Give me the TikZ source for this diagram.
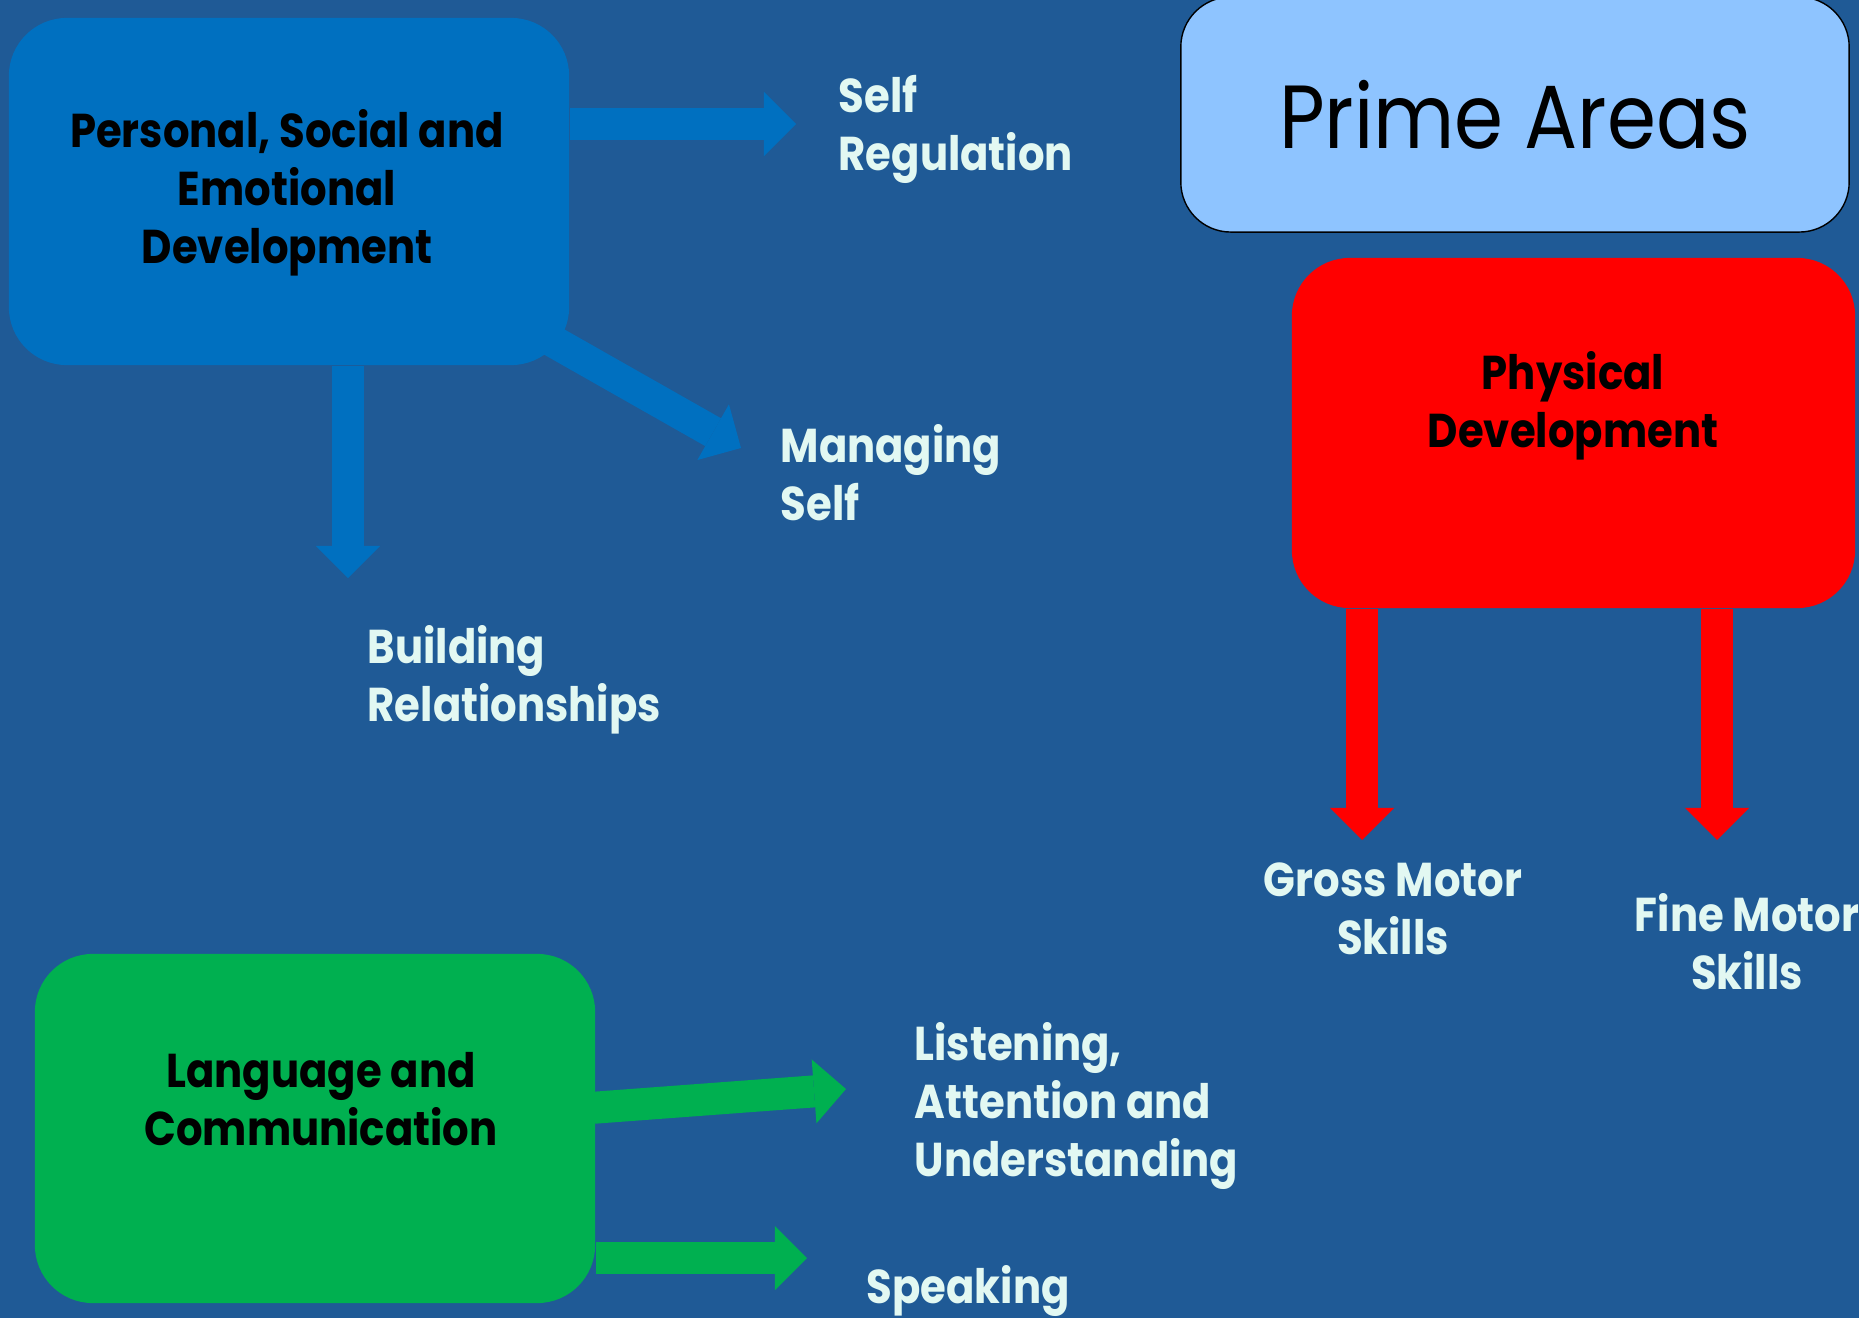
\documentclass[tikz,border=0pt]{standalone}
\usepackage{fontspec}
\setmainfont{Poppins}
\newfontfamily\comicish[FakeStretch=0.88]{Poppins}
\usetikzlibrary{arrows.meta,positioning}
\definecolor{slide}{RGB}{31,90,150}
\definecolor{psedblue}{RGB}{0,112,192}
\definecolor{physred}{RGB}{255,0,0}
\definecolor{langgreen}{RGB}{0,176,80}
\definecolor{primesky}{RGB}{142,196,255}
\definecolor{labelmint}{RGB}{226,248,242}
\pgfdeclarelayer{background}
\pgfsetlayers{background,main}
\tikzset{
  areabox/.style={rounded corners=0.58cm, inner sep=0pt},
  areatext/.style={font=\comicish\bfseries\fontsize{13.5}{16.5}\selectfont, align=center, text=black},
  skill/.style={font=\comicish\bfseries\fontsize{13.5}{16.5}\selectfont, text=labelmint, inner sep=0pt},
  fat/.style={line width=0.32cm, draw=#1,
    -{Triangle[length=0.32cm,width=0.64cm,line width=0pt]}},
}

\begin{document}
\begin{tikzpicture}[x=0.01cm, y=-0.01cm]
          \useasboundingbox (0,0) rectangle (1859,1318);
          \clip (0,0) rectangle (1859,1318);

          % Area boxes
          \node[areabox, fill=psedblue, minimum width=5.60cm, minimum height=3.47cm] (psed) at (289,191.5) {};
          \node[areabox, fill=physred, minimum width=5.63cm, minimum height=3.50cm] (pd) at (1573.5,433) {};
          \node[areabox, fill=langgreen, minimum width=5.60cm, minimum height=3.49cm] (lc) at (315,1128.5) {};
          \node[areabox, rounded corners=0.5cm, draw=black, fill=primesky, minimum width=6.68cm, minimum height=2.35cm] (prime) at (1515,114.5) {};

          \node[areatext] (psedtext) at (287,193) {Personal, Social and\\Emotional\\Development};
          \node[areatext] (pdtext) at (1573,406) {Physical\\Development};
          \node[areatext] (lctext) at (321,1099) {Language and\\Communication};
          \node[font=\comicish\fontsize{25.5}{30}\selectfont] (primetext) at (prime) {Prime Areas};

          % Arrow tips
          \coordinate (srtip) at (796,124);
          \coordinate (mstip) at (741,448);
          \coordinate (brtip) at (348,578);
          \coordinate (gmtip) at (1362,840);
          \coordinate (fmtip) at (1717,840);
          \coordinate (latip) at (846,1089);
          \coordinate (sptip) at (807,1258);

          \begin{pgfonlayer}{background}
            \fill[slide] (0,0) rectangle (1859,1318);
            \draw[fat=psedblue] (psed.east |- srtip) -- (srtip);
            \draw[fat=psedblue] (psed.center) -- (mstip);
            \draw[fat=psedblue] (psed.south -| brtip) -- (brtip);
            \draw[fat=physred] (pd.south -| gmtip) -- (gmtip);
            \draw[fat=physred] (pd.south -| fmtip) -- (fmtip);
            \draw[fat=langgreen] (lc.center) -- (latip);
            \draw[fat=langgreen] (lc.east |- sptip) -- (sptip);
          \end{pgfonlayer}

          % Skill labels
          \node[skill, align=left, anchor=west] (selfreg) at (838,129) {Self\\Regulation};
          \node[skill, align=left, anchor=west] (manself) at (780,473) {Managing\\Self};
          \node[skill, align=left, anchor=west] (buildrel) at (367,680) {Building\\Relationships};
          \node[skill, align=center] (gross) at (1393,909) {Gross Motor\\Skills};
          \node[skill, align=center] (fine) at (1747,942) {Fine Motor\\Skills};
          \node[skill, align=left, anchor=west] (listen) at (914,1106) {Listening,\\Attention and\\Understanding};
          \node[skill, align=left, anchor=west] (speak) at (866,1291) {Speaking};
\end{tikzpicture}
\end{document}
